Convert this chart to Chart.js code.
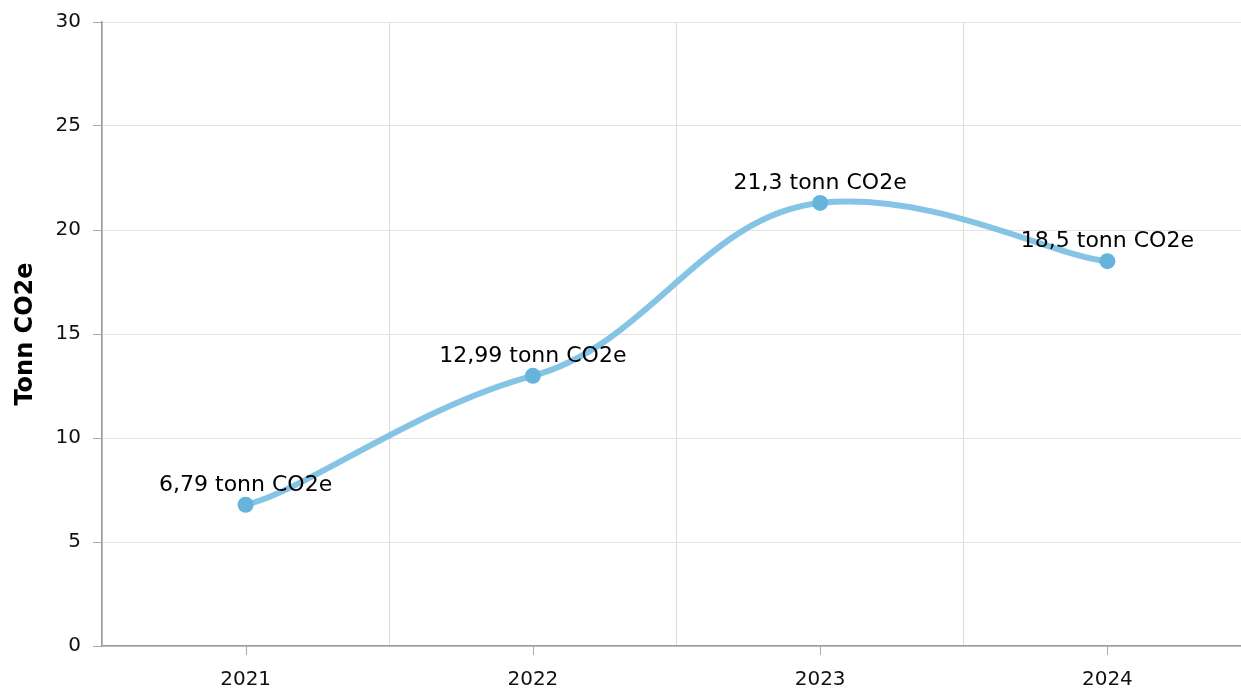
<!DOCTYPE html>
<html>
<head>
<meta charset="utf-8">
<script src="https://cdn.jsdelivr.net/npm/chart.js@4"></script>
<style>
  html, body { margin: 0; padding: 0; background: #fff; overflow: hidden; }
  #wrap { width: 1259px; height: 690px; }
</style>
</head>
<body>
<div id="wrap"><canvas id="co2Chart" width="1259" height="690"></canvas></div>
<script>
// chart data
const years = ["2021", "2022", "2023", "2024"];
const emissions = [6.79, 12.99, 21.3, 18.5];
const pointLabels = ["6,79 tonn CO2e", "12,99 tonn CO2e", "21,3 tonn CO2e", "18,5 tonn CO2e"];
const yTicks = [0, 5, 10, 15, 20, 25, 30];

const FONT = "'DejaVu Sans', Verdana, sans-serif";

// smoothing with separate x / y tension (flatter tangents at the points)
const TENSION_X = 0.8;
const TENSION_Y = 0.9;

const splineCurve = {
    id: "splineCurve",
    beforeDatasetDraw(chart, args) {
        const meta = args.meta;
        const pts = meta.data;
        meta.dataset.updateControlPoints(chart.chartArea, meta.iScale.axis);
        const tx = 1 - TENSION_X, ty = 1 - TENSION_Y;
        pts.forEach((p, i) => {
            const prev = pts[i - 1] || p;
            const next = pts[i + 1] || p;
            const dx = next.x - prev.x;
            const dy = next.y - prev.y;
            p.cp1x = p.x - dx * tx; p.cp1y = p.y - dy * ty;
            p.cp2x = p.x + dx * tx; p.cp2y = p.y + dy * ty;
        });
    },
};

// labels above each point
const valueLabels = {
    id: "valueLabels",
    afterDatasetsDraw(chart) {
        const ctx = chart.ctx;
        const meta = chart.getDatasetMeta(0);
        ctx.save();
        ctx.font = "22px " + FONT;
        ctx.fillStyle = "#000";
        ctx.textAlign = "center";
        ctx.textBaseline = "alphabetic";
        meta.data.forEach((pt, i) => {
            ctx.fillText(pointLabels[i], pt.x, pt.y - 14);
        });
        ctx.restore();
    },
};

// x tick marks at category centres (grid lines sit between categories)
const centerTicks = {
    id: "centerTicks",
    afterDraw(chart) {
        const ctx = chart.ctx;
        const x = chart.scales.x;
        ctx.save();
        ctx.strokeStyle = "#aaa";
        ctx.lineWidth = 1;
        years.forEach((y, i) => {
            const px = Math.round(x.getPixelForValue(i)) + 0.5;
            ctx.beginPath();
            ctx.moveTo(px, x.top);
            ctx.lineTo(px, x.top + 9);
            ctx.stroke();
        });
        ctx.restore();
    },
};

new Chart(document.getElementById("co2Chart"), {
    type: "line",
    data: {
        labels: years,
        datasets: [
            {
                data: emissions,
                borderColor: "rgba(120, 190, 226, 0.9)",
                borderWidth: 6,
                tension: 0.4,
                pointRadius: 8,
                pointHoverRadius: 8,
                pointBackgroundColor: "#66b3dc",
                pointBorderWidth: 0,
                fill: false,
            },
        ],
    },
    options: {
        responsive: false,
        animation: false,
        layout: { padding: { top: 22, right: 0, left: 0, bottom: 0 } },
        plugins: {
            legend: { display: false },
            tooltip: { enabled: false },
        },
        scales: {
            x: {
                offset: true,
                grid: {
                    offset: true,
                    color: "#dcdcdc",
                    drawTicks: false,
                },
                border: { color: "#999", width: 1.5 },
                ticks: {
                    color: "#111",
                    font: { size: 20, family: FONT },
                    padding: 22,
                },
                afterFit(scale) { scale.height = 44; },
            },
            y: {
                min: 0,
                max: 30,
                afterBuildTicks(scale) {
                    scale.ticks = yTicks.map((v) => ({ value: v }));
                },
                grid: {
                    color: "#e2e2e2",
                    tickColor: "#aaa",
                    tickLength: 9,
                },
                border: { color: "#999", width: 1.5 },
                ticks: {
                    color: "#111",
                    font: { size: 20, family: FONT, lineHeight: 1 },
                    padding: 12,
                },
                title: {
                    display: true,
                    text: "Tonn CO2e",
                    color: "#000",
                    font: { size: 24, weight: "bold", family: FONT },
                    padding: { top: 11, bottom: 8 },
                },
                afterFit(scale) { scale.width = 102; },
            },
        },
    },
    plugins: [splineCurve, valueLabels, centerTicks],
});
</script>
</body>
</html>
